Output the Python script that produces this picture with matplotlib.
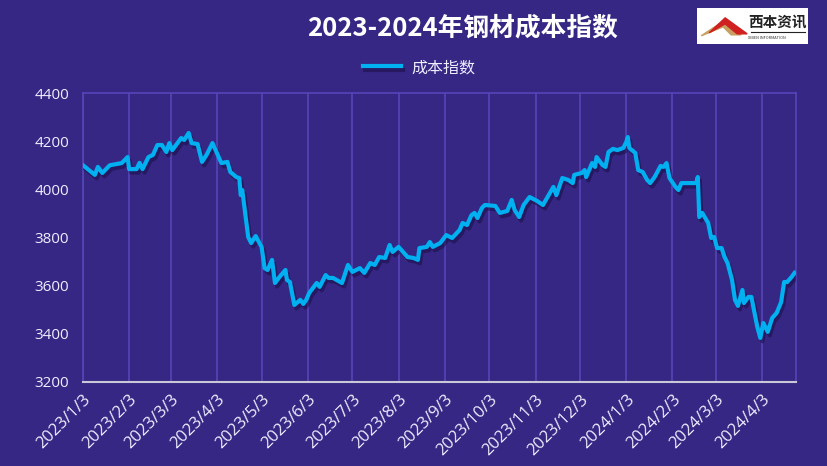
import matplotlib
matplotlib.use("Agg")
import matplotlib.pyplot as plt
import matplotlib.patheffects as pe
import pandas as pd

plt.rcParams['font.family'] = ['Noto Sans CJK SC', 'DejaVu Sans']

dates = [
    "2023-01-03", "2023-01-11", "2023-01-13", "2023-01-16", "2023-01-21", "2023-01-29",
    "2023-02-02", "2023-02-03", "2023-02-08", "2023-02-10", "2023-02-12", "2023-02-16",
    "2023-02-19", "2023-02-22", "2023-02-25", "2023-02-28", "2023-03-02", "2023-03-04",
    "2023-03-10", "2023-03-12", "2023-03-15", "2023-03-17", "2023-03-21", "2023-03-24",
    "2023-03-27", "2023-03-31", "2023-04-06", "2023-04-10", "2023-04-12", "2023-04-16",
    "2023-04-18", "2023-04-19", "2023-04-20", "2023-04-24", "2023-04-26", "2023-04-29",
    "2023-05-03", "2023-05-05", "2023-05-07", "2023-05-10", "2023-05-12", "2023-05-15",
    "2023-05-19", "2023-05-20", "2023-05-22", "2023-05-25", "2023-05-29", "2023-05-31",
    "2023-06-02", "2023-06-04", "2023-06-09", "2023-06-11", "2023-06-15", "2023-06-17",
    "2023-06-20", "2023-06-26", "2023-06-30", "2023-07-03", "2023-07-08", "2023-07-11",
    "2023-07-15", "2023-07-18", "2023-07-21", "2023-07-25", "2023-07-28", "2023-07-30",
    "2023-08-03", "2023-08-09", "2023-08-13", "2023-08-16", "2023-08-17", "2023-08-22",
    "2023-08-24", "2023-08-26", "2023-08-31", "2023-09-04", "2023-09-08", "2023-09-13",
    "2023-09-15", "2023-09-18", "2023-09-21", "2023-09-23", "2023-09-25", "2023-09-28",
    "2023-09-30", "2023-10-07", "2023-10-10", "2023-10-15", "2023-10-18", "2023-10-20",
    "2023-10-23", "2023-10-26", "2023-10-30", "2023-11-04", "2023-11-08", "2023-11-15",
    "2023-11-17", "2023-11-21", "2023-11-25", "2023-11-28", "2023-11-29", "2023-12-04",
    "2023-12-06", "2023-12-07", "2023-12-11", "2023-12-13", "2023-12-14", "2023-12-18",
    "2023-12-20", "2023-12-22", "2023-12-25", "2023-12-28", "2024-01-01", "2024-01-03",
    "2024-01-04", "2024-01-05", "2024-01-09", "2024-01-11", "2024-01-14", "2024-01-17",
    "2024-01-19", "2024-01-22", "2024-01-26", "2024-01-28", "2024-01-30", "2024-02-01",
    "2024-02-05", "2024-02-07", "2024-02-09", "2024-02-19", "2024-02-20", "2024-02-21",
    "2024-02-23", "2024-02-27", "2024-02-29", "2024-03-02", "2024-03-04", "2024-03-07",
    "2024-03-09", "2024-03-11", "2024-03-14", "2024-03-16", "2024-03-18", "2024-03-21",
    "2024-03-22", "2024-03-25", "2024-03-27", "2024-03-31", "2024-04-02", "2024-04-04",
    "2024-04-07", "2024-04-10", "2024-04-13", "2024-04-16", "2024-04-18", "2024-04-20",
    "2024-04-23", "2024-04-25",
]
values = [
    4100, 4060, 4093, 4068, 4100, 4109,
    4134, 4084, 4084, 4110, 4084, 4134,
    4143, 4184, 4184, 4155, 4192, 4163,
    4213, 4205, 4234, 4192, 4188, 4114,
    4143, 4192, 4109, 4114, 4072, 4051,
    4047, 3976, 3997, 3802, 3777, 3806,
    3761, 3673, 3665, 3707, 3611, 3636,
    3665, 3624, 3615, 3520, 3541, 3524,
    3541, 3570, 3611, 3595, 3644, 3632,
    3632, 3611, 3686, 3657, 3673, 3653,
    3694, 3686, 3719, 3715, 3769, 3740,
    3761, 3719, 3715, 3707, 3756, 3761,
    3781, 3761, 3777, 3810, 3798, 3831,
    3860, 3852, 3893, 3902, 3881, 3923,
    3935, 3931, 3902, 3910, 3956, 3914,
    3885, 3935, 3968, 3952, 3935, 4010,
    3976, 4047, 4039, 4026, 4060, 4068,
    4080, 4051, 4109, 4093, 4134, 4101,
    4093, 4155, 4168, 4163, 4172, 4197,
    4217, 4172, 4151, 4080, 4072, 4039,
    4026, 4051, 4097, 4093, 4109, 4047,
    4010, 3997, 4026, 4026, 4051, 3885,
    3902, 3860, 3798, 3802, 3756, 3756,
    3719, 3694, 3624, 3541, 3516, 3582,
    3528, 3553, 3553, 3428, 3383, 3445,
    3408, 3466, 3487, 3532, 3615, 3615,
    3636, 3653,
]
tick_dates = pd.date_range("2023-01-03", periods=16, freq=pd.DateOffset(months=1))
tick_labels = [f"{d.year}/{d.month}/{d.day}" for d in tick_dates]
y_ticks = [3200, 3400, 3600, 3800, 4000, 4200, 4400]

bg = "#362784"
grid_c = "#5646b8"
txt_c = "#eeeeff"

fig = plt.figure(figsize=(8.28, 4.66), dpi=100, facecolor=bg)
ax = fig.add_axes([0.1002, 0.1803, 0.8612, 0.6201], facecolor=bg)

x = pd.to_datetime(dates)
ax.plot(x, values, color="#00b0f0", lw=3.0, label="成本指数", solid_joinstyle="round",
        path_effects=[pe.SimpleLineShadow(offset=(1.5, -2.5), shadow_color="#1a0f45", alpha=0.55),
                      pe.Normal()], zorder=3)

ax.set_xlim(pd.Timestamp("2023-01-03"), pd.Timestamp("2024-04-26"))
ax.set_ylim(3200, 4400)
ax.set_yticks(y_ticks)
ax.set_xticks(tick_dates)
ax.set_xticklabels(tick_labels, rotation=45, ha="right", rotation_mode="anchor",
                   family="Open Sans", fontsize=12)
ax.set_yticklabels([str(v) for v in y_ticks], family="Open Sans", fontsize=11)
ax.tick_params(axis="both", length=0, colors=txt_c)
ax.tick_params(axis="x", pad=7)
ax.tick_params(axis="y", pad=10)
ax.grid(axis="x", color=grid_c, lw=1.2, zorder=0)
for s in ["left", "right", "top"]:
    ax.spines[s].set_color(grid_c)
    ax.spines[s].set_linewidth(1.2)
ax.spines["bottom"].set_color("#c8c8d8")
ax.spines["bottom"].set_linewidth(1.5)

fig.text(0.558, 0.94, "2023-2024年钢材成本指数", color="white", fontsize=18.5,
         fontweight="bold", ha="center", va="center")
leg = fig.legend(loc="center", bbox_to_anchor=(0.506, 0.855), frameon=False,
                 fontsize=11.5, handlelength=2.4, handletextpad=0.6, labelcolor=txt_c)

# logo
lg = fig.add_axes([0.842, 0.906, 0.134, 0.077])
lg.set_xlim(0, 111)
lg.set_ylim(0, 36)
lg.set_facecolor("white")
lg.set_xticks([])
lg.set_yticks([])
for s in lg.spines.values():
    s.set_visible(False)
lg.fill([4, 28, 44, 34, 26], [8, 24, 9, 9, 17], color="#c8a060")
lg.fill([12, 28, 50, 40, 28], [11, 26, 10, 10, 20], color="#d02020")
lg.text(80, 22, "西本资讯", fontsize=10.5, color="#222222", ha="center", va="center",
        fontweight="bold")
lg.plot([54, 108], [12, 12], color="#222222", lw=0.8)
lg.text(70, 6, "XIBEN INFORMATION", fontsize=2.8, color="#333333", ha="center", va="center")

plt.savefig("out.png", dpi=100, facecolor=bg)
